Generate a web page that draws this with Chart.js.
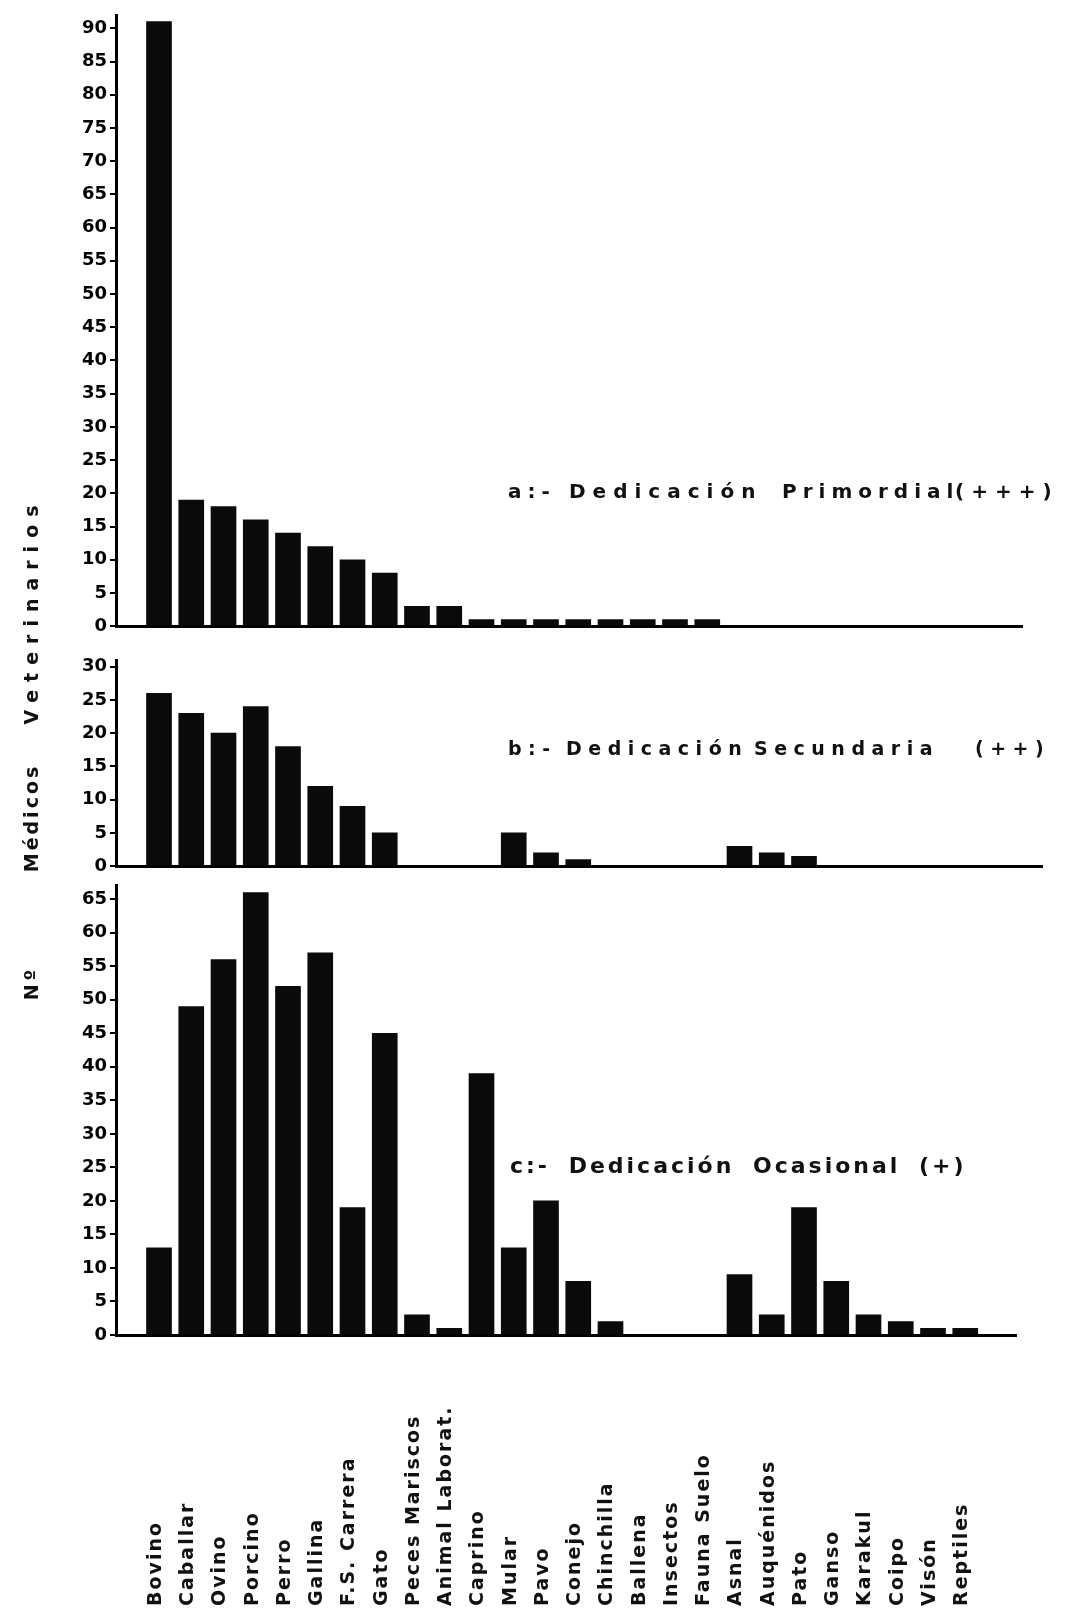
<!DOCTYPE html>
<html>
<head>
<meta charset="utf-8">
<script src="https://cdn.jsdelivr.net/npm/chart.js"></script>
<style>
  body { margin: 0; background: #fff; width: 1076px; height: 1610px; position: relative; overflow: hidden; font-family: "DejaVu Sans", sans-serif; color: #111; }
  .panel { position: absolute; left: 0; width: 1076px; }
  .note { position: absolute; white-space: nowrap; transform: translateY(-50%); font-weight: bold; }
  .ytitle { position: absolute; white-space: nowrap; font-weight: bold; font-size: 19px; transform: translate(-50%, -50%) rotate(-90deg); }
</style>
</head>
<body>
<div class="panel" style="top:0;height:640px"><canvas id="chartA"></canvas></div>
<div class="panel" style="top:640px;height:240px"><canvas id="chartB"></canvas></div>
<div class="panel" style="top:872px;height:738px"><canvas id="chartC"></canvas></div>

<div class="ytitle" style="left:31px;top:611px;letter-spacing:8px">Veterinarios</div>
<div class="ytitle" style="left:31px;top:818px;letter-spacing:3px">Médicos</div>
<div class="ytitle" style="left:31px;top:983px;letter-spacing:4px">Nº</div>

<!-- a: panel note, words placed one by one -->
<div class="note" style="left:508px;top:491px;font-size:20px;letter-spacing:6px">a:-</div>
<div class="note" style="left:569px;top:491px;font-size:20px;letter-spacing:7px">Dedicación</div>
<div class="note" style="left:782px;top:491px;font-size:20px;letter-spacing:6px">Primordial</div>
<div class="note" style="left:955px;top:491px;font-size:20px;letter-spacing:7px">(+++)</div>

<!-- b: panel note -->
<div class="note" style="left:508px;top:748px;font-size:19px;letter-spacing:6.5px">b:-</div>
<div class="note" style="left:566px;top:748px;font-size:19px;letter-spacing:6.5px">Dedicación</div>
<div class="note" style="left:754px;top:748px;font-size:19px;letter-spacing:6.5px">Secundaria</div>
<div class="note" style="left:975px;top:748px;font-size:19px;letter-spacing:6.5px">(++)</div>

<div class="note" style="left:510px;top:1165px;font-size:22px;letter-spacing:3px;word-spacing:8px">c:- Dedicación Ocasional (+)</div>

<script>
var categories = ["Bovino", "Caballar", "Ovino", "Porcino", "Perro", "Gallina", "F.S. Carrera", "Gato",
  "Peces Mariscos", "Animal Laborat.", "Caprino", "Mular", "Pavo", "Conejo", "Chinchilla", "Ballena",
  "Insectos", "Fauna Suelo", "Asnal", "Auquénidos", "Pato", "Ganso", "Karakul", "Coipo", "Visón", "Reptiles"];

// a: dedicacion primordial (+++)
var primordial = [91, 19, 18, 16, 14, 12, 10, 8, 3, 3, 1, 1, 1, 1, 1, 1, 1, 1, 0, 0, 0, 0, 0, 0, 0, 0];
// b: dedicacion secundaria (++)
var secundaria = [26, 23, 20, 24, 18, 12, 9, 5, 0, 0, 0, 5, 2, 1, 0, 0, 0, 0, 3, 2, 1.5, 0, 0, 0, 0, 0];
// c: dedicacion ocasional (+)
var ocasional = [13, 49, 56, 66, 52, 57, 19, 45, 3, 1, 39, 13, 20, 8, 2, 0, 0, 0, 9, 3, 19, 8, 3, 2, 1, 1];

var ticksA = [0, 5, 10, 15, 20, 25, 30, 35, 40, 45, 50, 55, 60, 65, 70, 75, 80, 85, 90];
var ticksB = [0, 5, 10, 15, 20, 25, 30];
var ticksC = [0, 5, 10, 15, 20, 25, 30, 35, 40, 45, 50, 55, 60, 65];

Chart.defaults.font.family = '"DejaVu Sans", sans-serif';
Chart.defaults.color = '#111';

var AXIS_X = 116;   // y axis line
var FIRST = 159;    // centre of first bar
var SLOT = 32.25;   // distance between bars

var labelPlugin = {
  id: 'animalLabels',
  afterDraw: function(chart) {
    var ctx = chart.ctx;
    var xs = chart.scales.x;
    ctx.save();
    ctx.font = 'bold 19px "DejaVu Sans"';
    ctx.letterSpacing = '2px';
    ctx.fillStyle = '#111';
    ctx.textAlign = 'left';
    ctx.textBaseline = 'middle';
    for (var i = 0; i < categories.length; i++) {
      ctx.save();
      ctx.translate(xs.getPixelForValue(i) - 3, chart.height - 4);
      ctx.rotate(-Math.PI / 2);
      ctx.fillText(categories[i], 0, 0);
      ctx.restore();
    }
    ctx.restore();
  }
};

function makePanel(id, values, yTicks, yMax, padTop, padBottom, right, plugins) {
  var points = [];
  for (var i = 0; i < categories.length; i++) {
    points.push({ x: i, y: values[i] });
  }
  return new Chart(document.getElementById(id), {
    type: 'bar',
    data: {
      datasets: [{
        data: points,
        backgroundColor: '#0a0a0a',
        borderWidth: 0,
        barThickness: 25
      }]
    },
    options: {
      responsive: true,
      maintainAspectRatio: false,
      animation: false,
      layout: { padding: { top: padTop, bottom: padBottom, left: 0, right: 1076 - right } },
      plugins: { legend: { display: false }, tooltip: { enabled: false } },
      scales: {
        x: {
          type: 'linear',
          offset: false,
          min: (AXIS_X - FIRST) / SLOT,
          max: (right - FIRST) / SLOT,
          ticks: { display: false },
          grid: { display: false, offset: false },
          border: { color: '#000', width: 3 },
          afterFit: function(s) { s.height = 0; }
        },
        y: {
          min: 0,
          max: yMax,
          afterFit: function(s) { s.width = AXIS_X; },
          afterBuildTicks: function(s) {
            s.ticks = yTicks.map(function(v) { return { value: v }; });
          },
          ticks: { color: '#000', font: { size: 18, weight: 'bold' }, padding: 3, autoSkip: false },
          grid: { display: true, drawOnChartArea: false, drawTicks: true, tickLength: 6, color: '#000', lineWidth: 2 },
          border: { color: '#000', width: 3 }
        }
      }
    },
    plugins: plugins || []
  });
}

makePanel('chartA', primordial, ticksA, 92, 15, 8, 1022);
makePanel('chartB', secundaria, ticksB, 31, 20, 8, 1042);
makePanel('chartC', ocasional, ticksC, 67, 11, 275, 1016, [labelPlugin]);
</script>
</body>
</html>
